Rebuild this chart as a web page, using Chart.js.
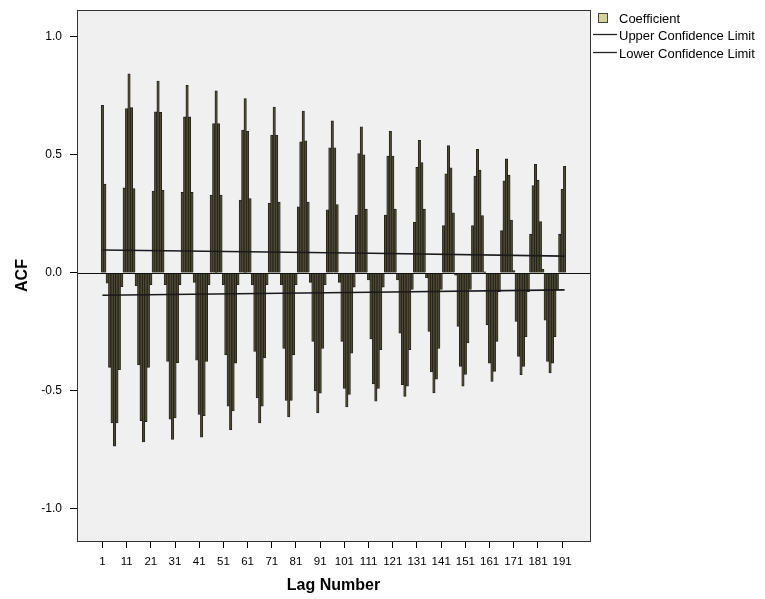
<!DOCTYPE html>
<html><head><meta charset="utf-8">
<script src="https://cdn.jsdelivr.net/npm/chart.js@4"></script>
<style>html,body{margin:0;padding:0;background:#fff;}#wrap{width:765px;height:599px;}</style>
</head><body><div id="wrap"><canvas id="c" width="765" height="599"></canvas></div>
<script>
// ACF coefficients for lags 1..192
const acf = [
  0.71, 0.376, -0.044, -0.40, -0.636, -0.734, -0.636, -0.41, -0.058, 0.36, 0.696,
  0.844, 0.70, 0.357, -0.054, -0.39, -0.626, -0.716, -0.63, -0.40, -0.05, 0.347, 0.682,
  0.813, 0.68, 0.35, -0.05, -0.375, -0.62, -0.706, -0.615, -0.38, -0.05, 0.341, 0.661,
  0.795, 0.661, 0.341, -0.04, -0.37, -0.60, -0.696, -0.605, -0.375, -0.05, 0.33, 0.633,
  0.771, 0.633, 0.33, -0.05, -0.347, -0.565, -0.664, -0.585, -0.382, -0.05, 0.309, 0.605,
  0.739, 0.60, 0.315, -0.05, -0.333, -0.53, -0.636, -0.565, -0.36, -0.05, 0.295, 0.584,
  0.703, 0.584, 0.30, -0.05, -0.32, -0.54, -0.61, -0.54, -0.347, -0.05, 0.28, 0.555,
  0.686, 0.56, 0.30, -0.04, -0.29, -0.50, -0.593, -0.51, -0.32, -0.05, 0.267, 0.53,
  0.644, 0.53, 0.29, -0.04, -0.29, -0.49, -0.568, -0.515, -0.34, -0.06, 0.245, 0.506,
  0.619, 0.50, 0.27, -0.03, -0.28, -0.47, -0.544, -0.49, -0.325, -0.06, 0.245, 0.495,
  0.60, 0.495, 0.27, -0.03, -0.255, -0.474, -0.523, -0.48, -0.325, -0.07, 0.214, 0.447,
  0.562, 0.467, 0.27, -0.02, -0.248, -0.42, -0.509, -0.45, -0.32, -0.07, 0.20, 0.42,
  0.54, 0.445, 0.255, -0.01, -0.227, -0.396, -0.48, -0.43, -0.297, -0.07, 0.20, 0.41,
  0.524, 0.436, 0.243, 0.005, -0.22, -0.382, -0.46, -0.417, -0.29, -0.08, 0.179, 0.39,
  0.483, 0.414, 0.224, 0.01, -0.206, -0.354, -0.431, -0.396, -0.27, -0.08, 0.165, 0.37,
  0.46, 0.393, 0.217, 0.015, -0.20, -0.375, -0.424, -0.382, -0.27, -0.07, 0.164, 0.354,
  0.452
];
const lags = acf.map((_, i) => i + 1);
const xTickLabels = [1, 11, 21, 31, 41, 51, 61, 71, 81, 91, 101, 111, 121, 131, 141, 151, 161, 171, 181, 191];
const yTickValues = [-1.0, -0.5, 0.0, 0.5, 1.0];
const limitLags = [1, 112, 192];
const upperLimit = [0.097, 0.083, 0.071];
const lowerLimit = [-0.095, -0.082, -0.072];

const FONT = '"Liberation Sans", Arial, sans-serif';
const LEGEND_SWATCH = '#d6d29c';

const plotDecor = {
  id: 'plotDecor',
  beforeDraw(chart) {
    const { ctx, chartArea: a } = chart;
    ctx.save();
    ctx.fillStyle = '#f0f0f0';
    ctx.fillRect(a.left, a.top, a.right - a.left, a.bottom - a.top);
    ctx.restore();
  },
  afterDatasetsDraw(chart) {
    const { ctx, chartArea: a, scales } = chart;
    const y0 = Math.round(scales.y.getPixelForValue(0)) + 0.5;
    ctx.save();
    ctx.strokeStyle = '#111';
    ctx.lineWidth = 1;
    ctx.beginPath();
    ctx.moveTo(a.left, y0); ctx.lineTo(a.right, y0);
    ctx.stroke();
    ctx.strokeStyle = '#333';
    ctx.strokeRect(Math.round(a.left) + 0.5, Math.round(a.top) + 0.5,
      Math.round(a.right - a.left), Math.round(a.bottom - a.top));
    ctx.restore();
  },
  afterDraw(chart) {
    const { ctx, chartArea: a } = chart;
    const ds = chart.data.datasets;
    const x0 = a.right + 2;
    ctx.save();
    ctx.font = '13px ' + FONT;
    ctx.textBaseline = 'middle';
    ctx.fillStyle = LEGEND_SWATCH;
    ctx.fillRect(x0 + 6, 13, 9, 9);
    ctx.strokeStyle = '#444';
    ctx.lineWidth = 1;
    ctx.strokeRect(x0 + 6.5, 13.5, 9, 9);
    ctx.fillStyle = '#000';
    ctx.fillText(ds[2].label, x0 + 27, 19);
    const rows = [[ds[0].label, 34], [ds[1].label, 52]];
    rows.forEach(([t, y]) => {
      ctx.beginPath();
      ctx.strokeStyle = '#222';
      ctx.lineWidth = 1.3;
      ctx.moveTo(x0 + 1, y + 0.5); ctx.lineTo(x0 + 25, y + 0.5);
      ctx.stroke();
      ctx.fillText(t, x0 + 27, y + 2);
    });
    ctx.restore();
  }
};

new Chart(document.getElementById('c'), {
  data: {
    datasets: [
      {
        type: 'line', label: 'Upper Confidence Limit', order: 1,
        data: limitLags.map((x, i) => ({ x, y: upperLimit[i] })),
        borderColor: '#1a1a1a', borderWidth: 1.6, pointRadius: 0, tension: 0
      },
      {
        type: 'line', label: 'Lower Confidence Limit', order: 1,
        data: limitLags.map((x, i) => ({ x, y: lowerLimit[i] })),
        borderColor: '#1a1a1a', borderWidth: 1.6, pointRadius: 0, tension: 0
      },
      {
        type: 'bar', label: 'Coefficient', order: 2,
        data: lags.map((x, i) => ({ x, y: acf[i] })),
        backgroundColor: '#4c4a34', borderColor: '#1c1c14', borderWidth: 0.8,
        barPercentage: 1, categoryPercentage: 1, borderSkipped: 'start'
      }
    ]
  },
  options: {
    responsive: false, animation: false, devicePixelRatio: 1,
    layout: { padding: { top: 10, right: 175, left: 0, bottom: 0 } },
    plugins: { legend: { display: false }, tooltip: { enabled: false } },
    scales: {
      x: {
        type: 'linear', min: -9.5, max: 202.5, offset: false,
        afterBuildTicks: s => { s.ticks = xTickLabels.map(v => ({ value: v })); },
        afterFit: s => { s.height = 58; s.paddingLeft = 0; s.paddingRight = 0; },
        grid: { display: true, offset: false, drawOnChartArea: false, drawTicks: true, tickLength: 7, tickColor: '#000', color: '#000' },
        border: { display: true, color: '#333' },
        ticks: { autoSkip: false, maxRotation: 0, minRotation: 0, padding: 7, color: '#000',
          font: { family: FONT, size: 11.5 }, callback: v => String(v) },
        title: { display: true, text: 'Lag Number', color: '#000', padding: { top: 0, bottom: 4 },
          font: { family: FONT, size: 16, weight: 'bold' } }
      },
      y: {
        type: 'linear', min: -1.136, max: 1.114,
        afterBuildTicks: s => { s.ticks = yTickValues.map(v => ({ value: v })); },
        afterFit: s => { s.width = 77; s.paddingTop = 0; s.paddingBottom = 0; },
        grid: { display: true, drawOnChartArea: false, drawTicks: true, tickLength: 7, tickColor: '#000', color: '#000' },
        border: { display: true, color: '#333' },
        ticks: { color: '#000', padding: 8, font: { family: FONT, size: 12 }, callback: v => v.toFixed(1) },
        title: { display: true, text: 'ACF', color: '#000', padding: { top: 13, bottom: 0 },
          font: { family: FONT, size: 16, weight: 'bold' } }
      }
    }
  },
  plugins: [plotDecor]
});
</script></body></html>
